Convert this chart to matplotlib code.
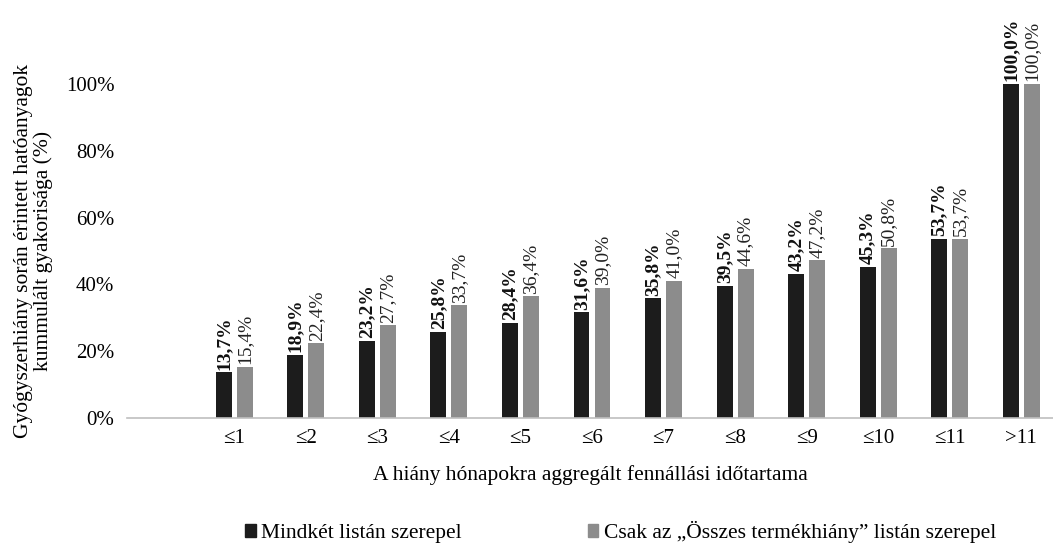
import matplotlib
matplotlib.use("Agg")
import matplotlib.pyplot as plt
import numpy as np
from matplotlib.patches import Patch

plt.rcParams['font.family'] = ['Liberation Serif', 'DejaVu Serif']

categories = ["≤1", "≤2", "≤3", "≤4", "≤5", "≤6", "≤7", "≤8", "≤9", "≤10", "≤11", ">11"]
both_lists = [13.7, 18.9, 23.2, 25.8, 28.4, 31.6, 35.8, 39.5, 43.2, 45.3, 53.7, 100.0]
only_total = [15.4, 22.4, 27.7, 33.7, 36.4, 39.0, 41.0, 44.6, 47.2, 50.8, 53.7, 100.0]
series_names = ["Mindkét listán szerepel", "Csak az „Összes termékhiány” listán szerepel"]
yticks = [0, 20, 40, 60, 80, 100]

c_black = "#1c1c1c"
c_grey = "#8c8c8c"

fig = plt.figure(figsize=(10.53, 5.43), dpi=100)
ax = fig.add_axes([127/1053, (543-418)/543, 1 - 127/1053, (418-60)/543])

x = np.arange(1, len(categories) + 1)
w = 0.223
off = 0.147
ax.bar(x - off, both_lists, w, color=c_black)
ax.bar(x + off, only_total, w, color=c_grey)

def fmt(v):
    return f"{v:.1f}".replace(".", ",") + "%"

for xi, v in zip(x, both_lists):
    ax.text(xi - off, v + 0.8, fmt(v), rotation=90, ha="center", va="bottom",
            fontsize=14, fontweight="bold", color="#111111")
for xi, v in zip(x, only_total):
    ax.text(xi + off, v + 0.8, fmt(v), rotation=90, ha="center", va="bottom",
            fontsize=14, color="#222222")

ax.set_xlim(-0.5, (1053 - 162) / 71.6)
ax.set_ylim(0, (418 - 60) / 3.34)
ax.set_xticks(x)
ax.set_xticklabels(categories, fontsize=15)
ax.set_yticks(yticks)
ax.set_yticklabels([f"{t}%" for t in yticks], fontsize=15)
ax.tick_params(axis="both", length=0)
ax.tick_params(axis="x", pad=8)
ax.tick_params(axis="y", pad=9)
for s in ["top", "right", "left"]:
    ax.spines[s].set_visible(False)
ax.spines["bottom"].set_color("#bfbfbf")
ax.spines["bottom"].set_linewidth(1.2)

ax.set_xlabel("A hiány hónapokra aggregált fennállási időtartama", fontsize=15.5, labelpad=12)
fig.text(33.5/1053, 1 - 251/543,
         "Gyógyszerhiány során érintett hatóanyagok\nkummulált gyakorisága (%)",
         rotation=90, ha="center", va="center", fontsize=15.5, linespacing=1.0)

handles = [Patch(color=c_black), Patch(color=c_grey)]
fig.legend(handles, series_names, loc="center", bbox_to_anchor=(620.5/1053, 1 - 532/543),
           ncol=2, frameon=False, fontsize=15.5, handlelength=0.5, handleheight=0.5,
           handletextpad=0.25, columnspacing=5.85)

fig.savefig("out.png", dpi=100)
